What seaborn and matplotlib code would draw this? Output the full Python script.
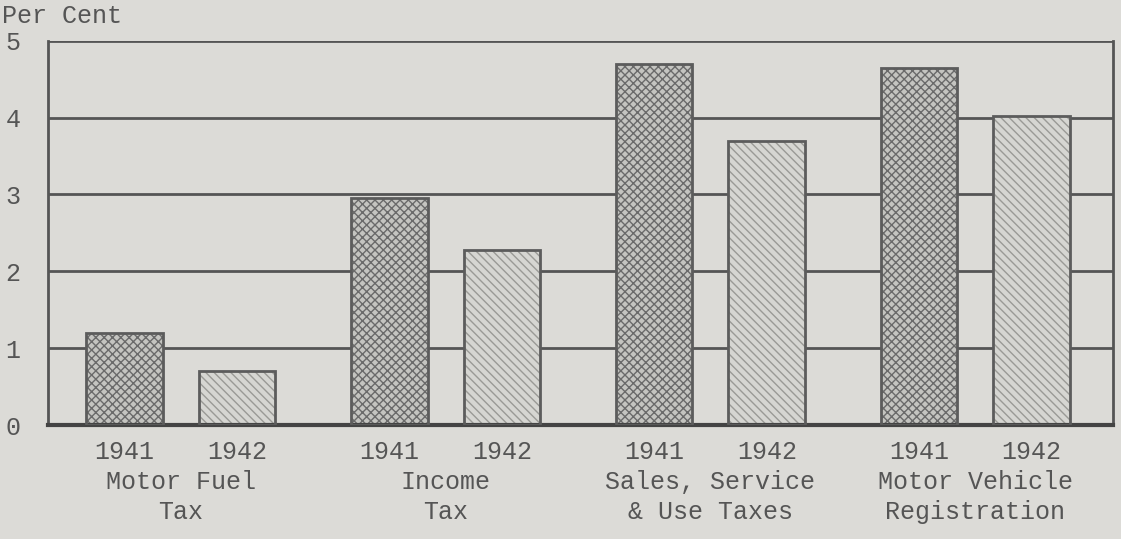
import numpy as np
import pandas as pd
import matplotlib
matplotlib.use("Agg")
import matplotlib.pyplot as plt
import matplotlib.transforms as mtransforms
from matplotlib.patches import Rectangle
import seaborn as sns

# data
categories = ["Motor Fuel\nTax", "Income\nTax", "Sales, Service\n& Use Taxes", "Motor Vehicle\nRegistration"]
years = ["1941", "1942"]
pct_1941 = [1.2, 2.95, 4.7, 4.65]
pct_1942 = [0.7, 2.28, 3.7, 4.02]
y_ticks = [0, 1, 2, 3, 4, 5]

df = pd.DataFrame({
    "category": np.repeat(categories, 2),
    "year": years * len(categories),
    "value": [v for pair in zip(pct_1941, pct_1942) for v in pair],
})

paper = "#dcdbd7"
ink = "#555555"
txt = "#555555"

sns.set_style("white")
plt.rcParams["font.family"] = ["Liberation Mono", "DejaVu Sans Mono"]
plt.rcParams["hatch.linewidth"] = 1.0

fig = plt.figure(figsize=(11.21, 5.39), dpi=100, facecolor=paper)
ax = fig.add_axes([0.043, 0.2115, 0.95, 0.713])
ax.set_facecolor(paper)

# grid lines behind the bars
for v in y_ticks[1:]:
    ax.axhline(v, color=ink, lw=2, zorder=0)

sns.barplot(data=df, x="category", y="value", hue="year", hue_order=years,
            width=0.85, gap=0.32, ax=ax, legend=False, zorder=2)

styles = {
    "1941": dict(face="#c4c4c0", hatch="xxxx", hcol="#6a6a6a"),
    "1942": dict(face="#d6d6d2", hatch="\\\\\\\\", hcol="#9a9a96"),
}
centers, labels = [], []
for year, cont in zip(years, ax.containers):
    st = styles[year]
    for p in cont.patches:
        p.set_facecolor(st["face"])
        p.set_hatch(st["hatch"])
        p.set_edgecolor(st["hcol"])
        p.set_linewidth(0)
        # outline on top
        ax.add_patch(Rectangle(p.get_xy(), p.get_width(), p.get_height(),
                               fill=False, edgecolor="#5c5c5c", lw=2, zorder=3))
        centers.append(p.get_x() + p.get_width() / 2)
        labels.append(year)

ax.set_ylim(0, 5)
ax.set_xlim(-0.5, 3.52)
ax.set_yticks(y_ticks)
ax.set_yticklabels([str(t) for t in y_ticks])
ax.set_xticks(centers)
ax.set_xticklabels(labels)
ax.tick_params(axis="both", length=0, colors=txt, labelsize=18)
ax.tick_params(axis="y", pad=20)
ax.tick_params(axis="x", pad=11)
ax.set_xlabel("")
ax.set_ylabel("")

for side in ["left", "right"]:
    ax.spines[side].set_visible(True)
    ax.spines[side].set_color(ink)
    ax.spines[side].set_linewidth(2)
ax.spines["top"].set_visible(False)
ax.spines["bottom"].set_color("#444444")
ax.spines["bottom"].set_linewidth(3)

# category names under the year labels
trans = mtransforms.blended_transform_factory(ax.transData, ax.transAxes)
for i, cat in enumerate(categories):
    ax.text(i, -0.118, cat, transform=trans, ha="center", va="top",
            fontsize=18, color=txt, linespacing=1.3)

fig.text(0.002, 0.992, "Per Cent", ha="left", va="top", fontsize=18, color=txt)

fig.savefig("out.png", dpi=100, facecolor=paper)
